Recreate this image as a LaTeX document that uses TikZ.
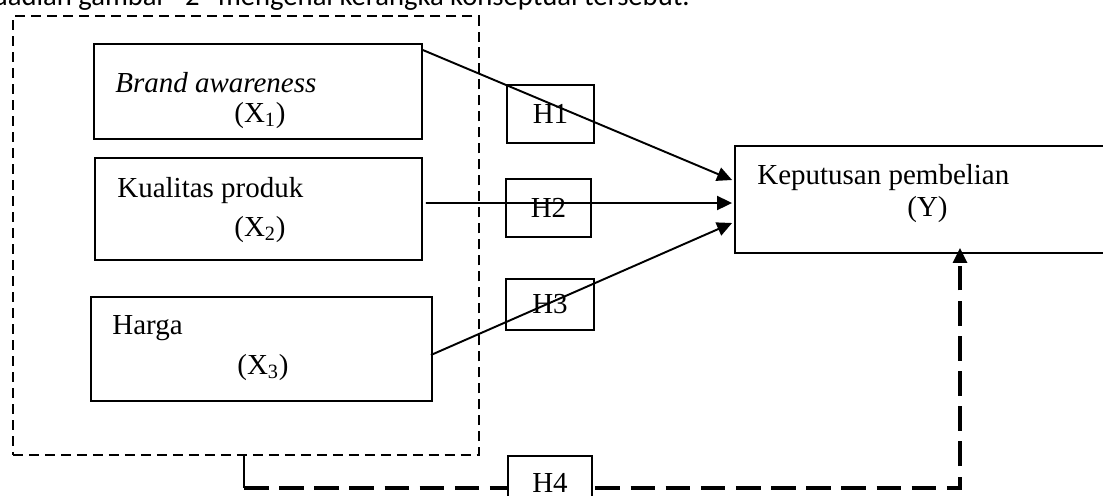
\documentclass[tikz,border=0pt]{standalone}
\usepackage{fontspec}
\setmainfont{Liberation Serif}
\newfontfamily\introfont{Carlito}
\usetikzlibrary{arrows.meta, positioning}

\begin{document}
\begin{tikzpicture}[
  x=0.02cm, y=-0.02cm,
  varbox/.style={draw, line width=1.1pt, inner sep=0pt},
  hbox/.style={draw, line width=0.75pt, inner sep=0pt, font=\fontsize{16.5}{19}\selectfont},
  txt/.style={anchor=base west, inner sep=0pt, font=\fontsize{16.5}{19}\selectfont},
  frame/.style={draw, line width=0.75pt, dash pattern=on 5.7pt off 3.4pt, inner sep=0pt},
  arrow/.style={-{Triangle[length=0.3cm, width=0.28cm]}, line width=1.1pt},
  hfourline/.style={-{Triangle[length=0.3cm, width=0.28cm]}, line width=1.8pt, dash pattern=on 14pt off 6pt}
]
\useasboundingbox (0,0) rectangle (1103,495);
\clip (0,0) rectangle (1103,495);

% caption line cut by the page top
\node[anchor=base east, inner sep=0pt, font=\introfont\fontsize{16.3}{20}\selectfont] (intro) at (690,5) {uadian gambar “2” mengenai kerangka konseptual tersebut.};

% independent variables
\node[frame, minimum width=9.32cm, minimum height=8.78cm] (frame) at (246,235.5) {};

\node[varbox, minimum width=6.56cm, minimum height=1.9cm] (brand) at (258,91.5) {};
\node[txt] (brand-name) at (115,92) {\textit{Brand awareness}};
\node[txt] (brand-var) at (234,122) {(X\textsubscript{1})};

\node[varbox, minimum width=6.54cm, minimum height=2.04cm] (kualitas) at (258.5,209) {};
\node[txt] (kualitas-name) at (117,197) {Kualitas produk};
\node[txt] (kualitas-var) at (234,236) {(X\textsubscript{2})};

\node[varbox, minimum width=6.82cm, minimum height=2.08cm] (harga) at (261.5,349) {};
\node[txt] (harga-name) at (112,334) {Harga};
\node[txt] (harga-var) at (237,374) {(X\textsubscript{3})};

% dependent variable
\node[varbox, minimum width=7.6cm, minimum height=2.14cm] (keputusan) at (925,199.5) {};
\node[txt] (keputusan-name) at (757,184) {Keputusan pembelian};
\node[txt] (keputusan-var) at (907,216) {(Y)};

% hypotheses
\node[hbox, minimum width=1.74cm, minimum height=1.16cm] (h1) at (550.5,114) {H1};
\node[hbox, minimum width=1.7cm, minimum height=1.16cm] (h2) at (548.5,208) {H2};
\node[hbox, minimum width=1.76cm, minimum height=1.02cm] (h3) at (550,304.5) {H3};

\draw[arrow] ([yshift=-0.14cm]brand.north east) -- ([xshift=-0.04cm, yshift=0.39cm]keputusan.west);
\draw[arrow] ([xshift=0.06cm, yshift=0.12cm]kualitas.east) -- ([xshift=-0.04cm, yshift=-0.07cm]keputusan.west);
\draw[arrow] ([xshift=-0.04cm, yshift=-0.12cm]harga.east) -- ([xshift=-0.04cm, yshift=-0.47cm]keputusan.west);

% simultaneous effect
\coordinate (turn1) at (244,488);
\coordinate (turn2) at (960,488);
\draw[line width=0.6pt] (frame.south -| turn1) -- (turn1);
\draw[hfourline] (turn1) -- (turn2) -- ([yshift=0.12cm]turn2 |- keputusan.south);
\node[hbox, fill=white, minimum width=1.68cm, minimum height=1.08cm] (h4) at (550,483) {H4};

\end{tikzpicture}
\end{document}
